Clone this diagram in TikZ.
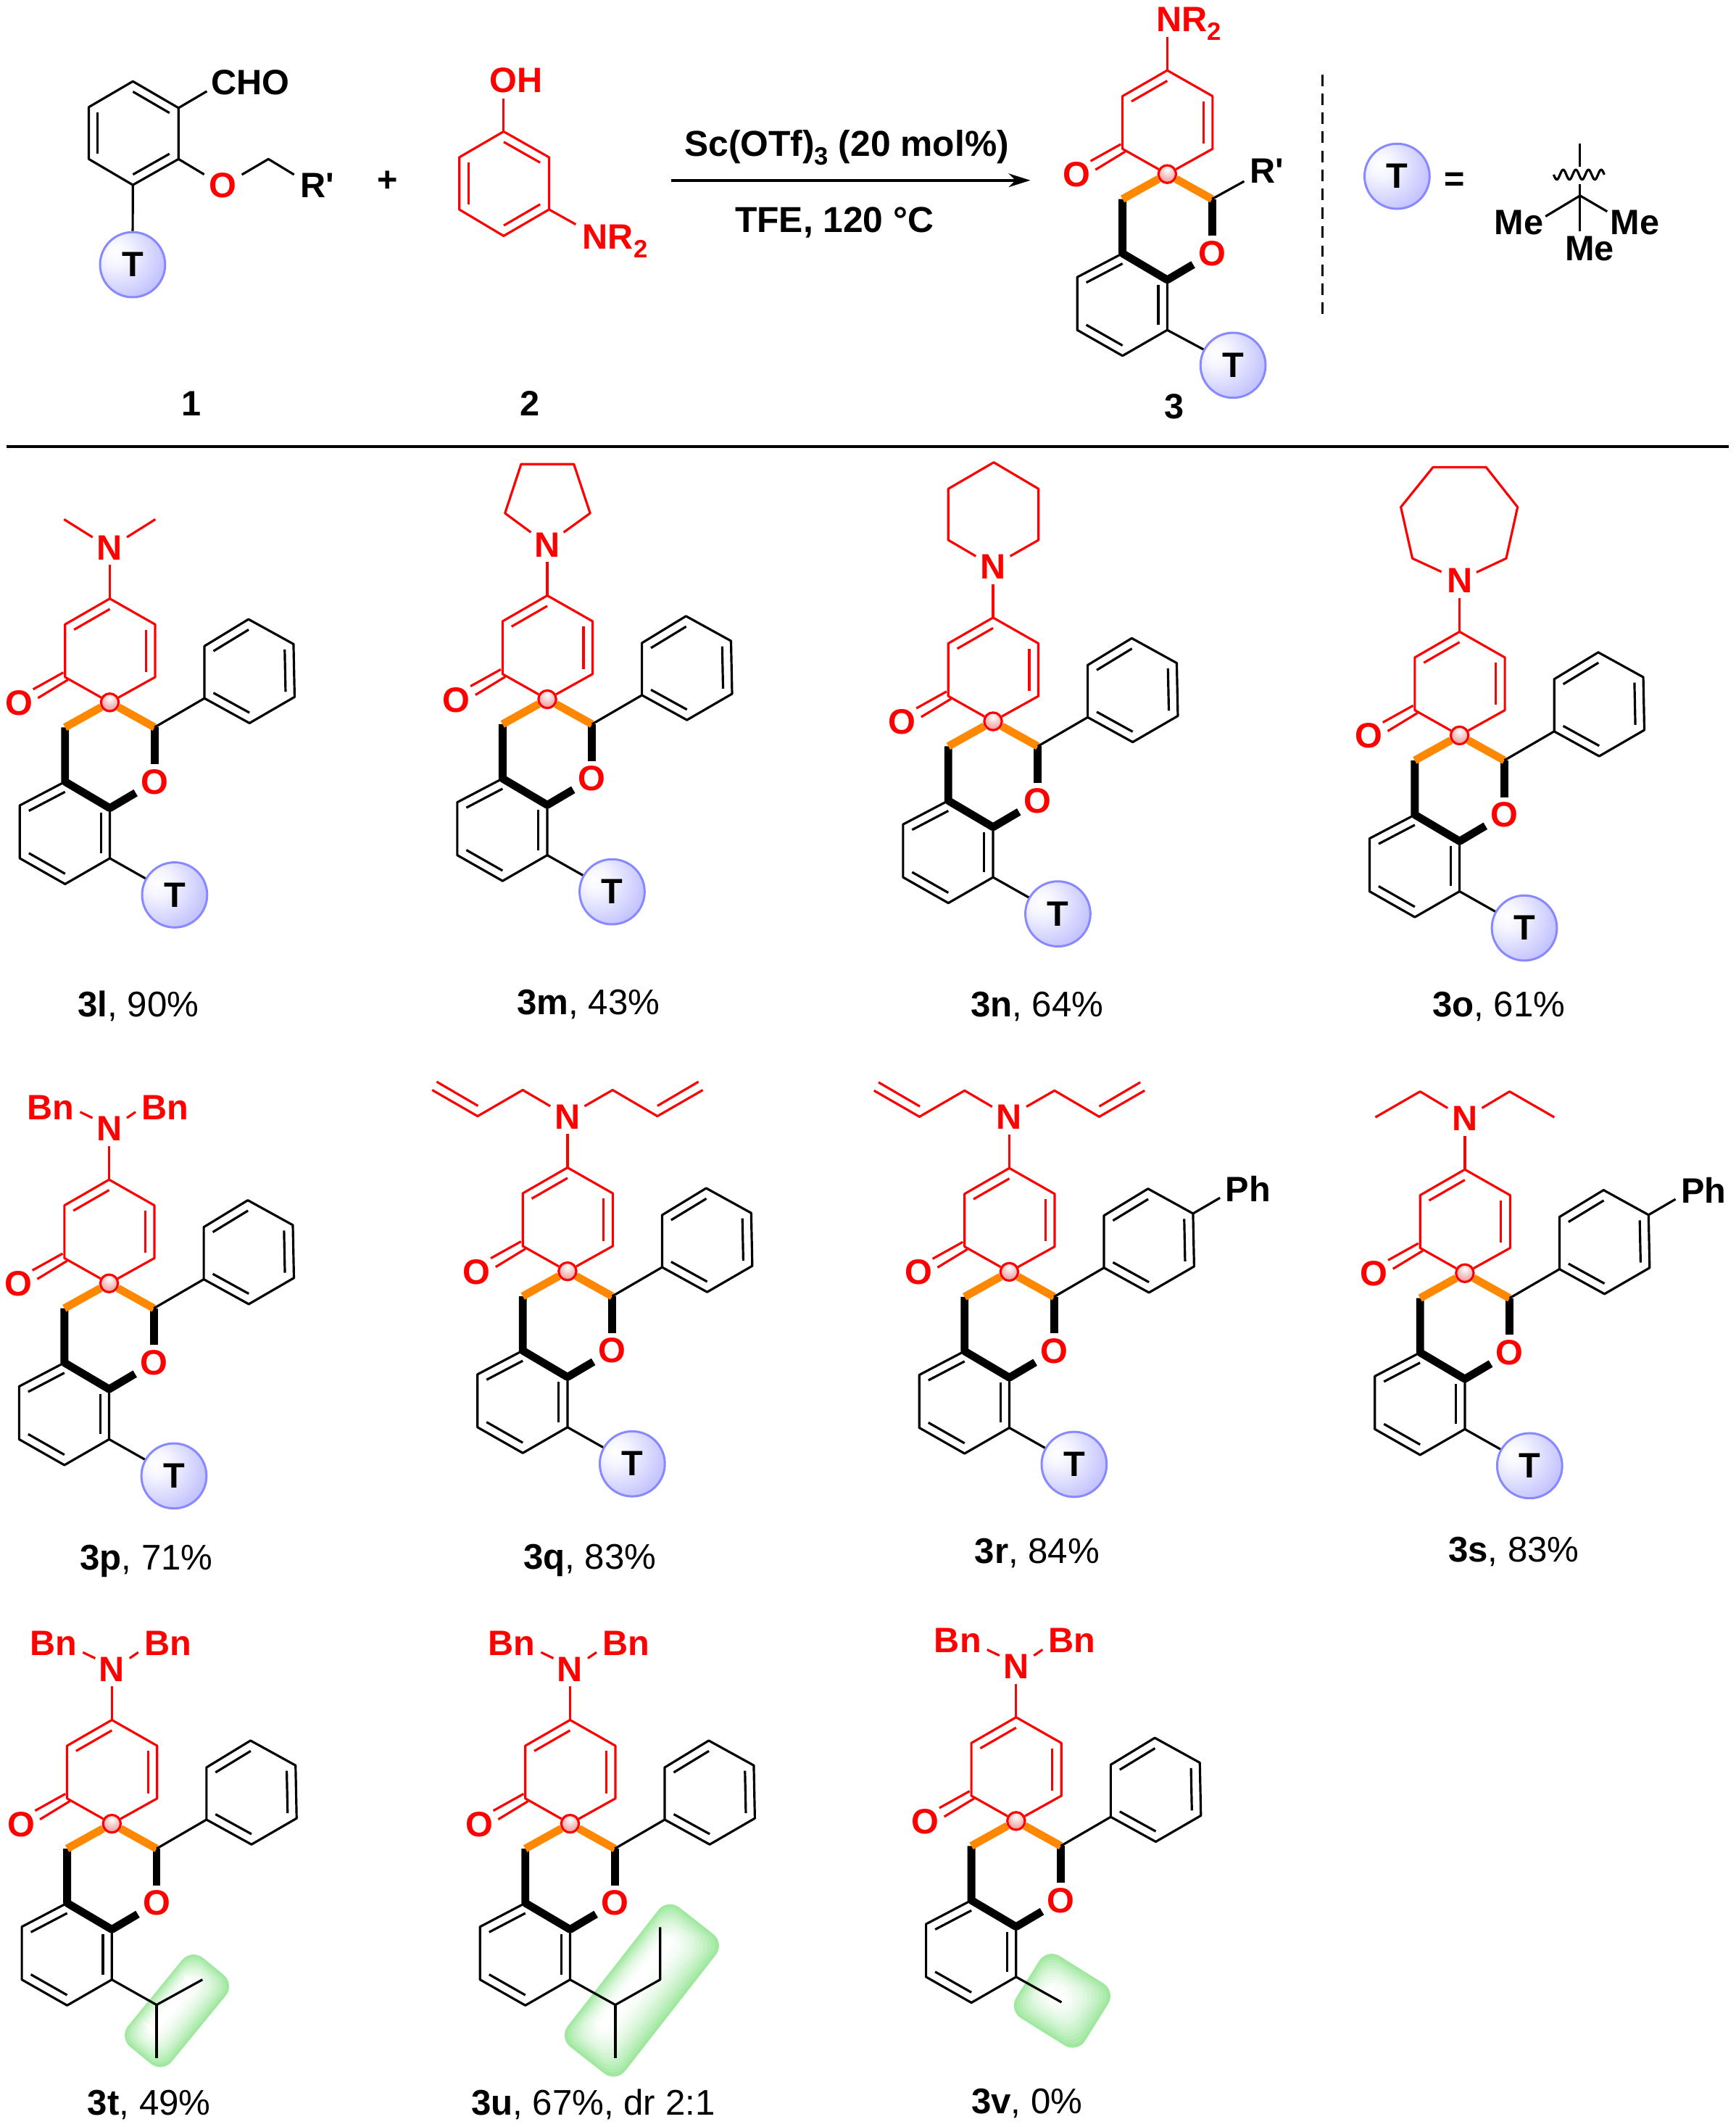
\documentclass[tikz,border=0pt]{standalone}
\usepackage{fontspec}
\setmainfont{Liberation Sans}
\newfontfamily\plainf{Liberation Sans}[BoldFont={Liberation Sans Bold}]
\usetikzlibrary{calc,arrows.meta}
\definecolor{rd}{RGB}{255,0,0}
\definecolor{orng}{RGB}{255,136,0}
\definecolor{tedge}{RGB}{136,136,255}
\definecolor{gboxc}{RGB}{160,232,160}
\pgfdeclareradialshading{tballs}{\pgfpoint{-14bp}{10bp}}{rgb(0bp)=(1,1,1);rgb(10bp)=(.96,.96,1);rgb(40bp)=(.72,.72,1);rgb(60bp)=(.54,.54,1);rgb(100bp)=(.54,.54,1)}
\pgfdeclareradialshading{sballs}{\pgfpoint{0bp}{12bp}}{rgb(0bp)=(1,1,1);rgb(22bp)=(.95,.72,.72);rgb(50bp)=(.86,.4,.4);rgb(100bp)=(.86,.4,.4)}
\newcommand\lab{\fontsize{26}{26}\selectfont\plainf\bfseries}
\newcommand\condf{\fontsize{26.6}{26.6}\selectfont\plainf\bfseries}
\newcommand\capf{\fontsize{26.3}{26.3}\selectfont}
\newcommand\subs[1]{\raisebox{-6.5pt}{\fontsize{18.5}{18.5}\selectfont #1}}
\tikzset{
  bk/.style={line width=1.7pt,black,line join=round},
  rb/.style={line width=1.7pt,rd,line join=round},
  bold/.style={line width=5.8pt,black,line join=bevel},
  og/.style={line width=5.8pt,orng},
  alab/.style={font=\lab,inner sep=3.6pt,text=black},
  rlab/.style={font=\lab,inner sep=3.6pt,text=rd},
  capn/.style={font=\capf,inner sep=0pt,anchor=base},
  tball/.style={shape=circle,minimum size=48pt,inner sep=0pt,shading=tballs,draw=tedge,line width=1.6pt,font=\lab,text=black},
  sball/.style={shape=circle,minimum size=13pt,inner sep=0pt,shading=sballs,draw=rd,line width=1.7pt},
}
\newcommand\dbl[4][bk]{\draw[#1] ($(#2)!.2!(#4)$) -- ($(#3)!.2!(#4)$);}
\newcommand\mol[4]{\begin{scope}[shift={(#2,#3)}]\def\I{#1}
  \coordinate (\I-C4) at (0,-76.5);
  \coordinate (\I-CLU) at (-33,-57.5);
  \coordinate (\I-CRU) at (33.4,-57.5);
  \coordinate (\I-CLD) at (-33,-18.6);
  \coordinate (\I-CRD) at (33.4,-18.6);
  \coordinate (\I-CH) at (-33,18.4);
  \coordinate (\I-CP) at (33,18.4);
  \coordinate (\I-Ca) at (-33,58.5);
  \coordinate (\I-Cb) at (0,78);
  \coordinate (\I-Cc) at (0,115);
  \coordinate (\I-Cd) at (-33,134);
  \coordinate (\I-Ce) at (-66.4,115);
  \coordinate (\I-Cf) at (-66.4,76);
  \coordinate (\I-RR) at (0,-38);
  \coordinate (\I-RA) at (-33,96);
  \coordinate (\I-k1a) at (-34.3,-22);
  \coordinate (\I-k1b) at (-56.6,-9.6);
  \coordinate (\I-k2a) at (-31,-16.6);
  \coordinate (\I-k2b) at (-53,-3.2);
  \node[sball] (\I-S) at (0,0) {};
  \node[rlab] (\I-O) at (33,58.5) {O};
  \node[rlab] (\I-Ok) at (-67,0.4) {O};
  \draw[rb] (\I-C4) -- (\I-CLU) -- (\I-CLD) -- (\I-S);
  \draw[rb] (\I-C4) -- (\I-CRU) -- (\I-CRD) -- (\I-S);
  \dbl[rb]{\I-C4}{\I-CLU}{\I-RR}
  \dbl[rb]{\I-CRU}{\I-CRD}{\I-RR}
  \draw[rb] (\I-k1a) -- (\I-k1b);
  \draw[rb] (\I-k2a) -- (\I-k2b);
  \draw[bk] (\I-Ca) -- (\I-Cf) -- (\I-Ce) -- (\I-Cd) -- (\I-Cc) -- (\I-Cb);
  \dbl{\I-Ca}{\I-Cf}{\I-RA}
  \dbl{\I-Cb}{\I-Cc}{\I-RA}
  \dbl{\I-Cd}{\I-Ce}{\I-RA}
  \draw[bold] (\I-CH) -- (\I-Ca) -- (\I-Cb) -- (\I-O);
  \draw[bold] (\I-CP) -- (\I-O);
  \draw[og] (\I-S) -- (\I-CH);
  \draw[og] (\I-S) -- (\I-CP);
  #4
\end{scope}}
\newcommand\Nlab{\node[rlab] (\I-N) at (0,-114) {N}; \draw[rb] (\I-C4) -- (\I-N);}
\newcommand\Tsub{\node[tball] (\I-T) at (47.8,142) {T}; \draw[bk] (\I-Cc) -- (\I-T);}
\newcommand\Phcoords{
  \coordinate (\I-P1) at (69.8,-3);
  \coordinate (\I-P2) at (69.8,-41.5);
  \coordinate (\I-P3) at (102.3,-61.3);
  \coordinate (\I-P4) at (135.5,-43);
  \coordinate (\I-P5) at (136.3,-4);
  \coordinate (\I-P6) at (103,15.3);
  \coordinate (\I-PC) at (103,-23);
  \draw[bk] (\I-CP) -- (\I-P1);
  \draw[bk] (\I-P1) -- (\I-P2) -- (\I-P3) -- (\I-P4) -- (\I-P5) -- (\I-P6) -- cycle;
  \dbl{\I-P2}{\I-P3}{\I-PC}
  \dbl{\I-P4}{\I-P5}{\I-PC}
  \dbl{\I-P1}{\I-P6}{\I-PC}
}
\newcommand\Biph{
  \Phcoords
  \node[alab] (\I-Ph) at (176,-61) {Ph};
  \coordinate (\I-Pe) at (155.4,-54.6);
  \draw[bk] (\I-P4) -- (\I-Pe);
}
\newcommand\Ngaps{
  \coordinate (\I-gl) at (-12.7,-121.8);
  \coordinate (\I-gr) at (12.6,-121.8);
}
\newcommand\BnBn[1]{
  \node[rlab] (\I-BnL) at (-43,#1) {Bn};
  \node[rlab] (\I-BnR) at (41.3,#1) {Bn};
  \coordinate (\I-b1) at (-12.3,-122);
  \coordinate (\I-b2) at (-21.4,-126.4);
  \coordinate (\I-b3) at (13.1,-122);
  \coordinate (\I-b4) at (19.5,-126.4);
  \draw[rb] (\I-b1) -- (\I-b2);
  \draw[rb] (\I-b3) -- (\I-b4);
}
\newcommand\Allyl{
  \Ngaps
  \coordinate (\I-a1) at (-33,-133.7);
  \coordinate (\I-a2) at (-66.3,-114.4);
  \coordinate (\I-a3) at (-99.8,-133.7);
  \coordinate (\I-a4) at (-66,-122);
  \coordinate (\I-a5) at (-96.5,-139.8);
  \coordinate (\I-a6) at (33.3,-133.7);
  \coordinate (\I-a7) at (66.3,-114.4);
  \coordinate (\I-a8) at (99.8,-133.7);
  \coordinate (\I-a9) at (66.3,-122);
  \coordinate (\I-a10) at (96.6,-139.8);
  \draw[rb] (\I-gl) -- (\I-a1) -- (\I-a2) -- (\I-a3);
  \draw[rb] (\I-a4) -- (\I-a5);
  \draw[rb] (\I-gr) -- (\I-a6) -- (\I-a7) -- (\I-a8);
  \draw[rb] (\I-a9) -- (\I-a10);
}
\newcommand\gbox[5]{%
  \foreach \i in {0,...,14}{%
    \pgfmathsetmacro\gp{100*(1-\i/14)^1.8}%
    \pgfmathsetmacro\gd{\i*#5/15}%
    \begin{scope}[shift={({#1-\gd*.2},{#2-\gd*.2})},rotate=#3]
      \fill[gboxc!\gp!white,rounded corners=11pt] ({-#4+\gd},{-#5+\gd}) rectangle ({#4-\gd},{#5-\gd});
    \end{scope}
  }%
}
\begin{document}
\begin{tikzpicture}[x=1pt,y=-1pt]
\useasboundingbox (0,0) rectangle (1280,1568.7);

% ---------- compound 1
\coordinate (a1) at (98,60);
\coordinate (a2) at (131.7,79.6);
\coordinate (a3) at (131.7,117.3);
\coordinate (a4) at (98,136.4);
\coordinate (a5) at (65.5,117.3);
\coordinate (a6) at (65.5,79);
\coordinate (ac) at (98.3,98);
\draw[bk] (a1) -- (a2) -- (a3) -- (a4) -- (a5) -- (a6) -- cycle;
\dbl{a1}{a2}{ac}
\dbl{a3}{a4}{ac}
\dbl{a5}{a6}{ac}
\node[alab,anchor=west,inner sep=0pt] (cho) at (155.5,61) {CHO};
\coordinate (choe) at (152.6,67.3);
\draw[bk] (a2) -- (choe);
\node[rlab] (ao) at (164.5,137) {O};
\coordinate (ach2) at (198,117.3);
\coordinate (are) at (216.9,128.8);
\node[alab] (ar) at (234,137) {R'};
\draw[bk] (a3) -- (ao);
\draw[bk] (ao) -- (ach2) -- (are);
\node[tball] (at) at (97.8,195.2) {T};
\draw[bk] (a4) -- (at);
\node[alab] (c1) at (141,297.7) {1};
\node[alab] (plus) at (286,133.7) {+};

% ---------- compound 2
\coordinate (b1) at (371.5,97);
\coordinate (b2) at (405,116);
\coordinate (b3) at (405,154.5);
\coordinate (b4) at (371.5,174);
\coordinate (b5) at (338.8,154.5);
\coordinate (b6) at (338.8,116);
\coordinate (bc) at (372,135.5);
\draw[rb] (b1) -- (b2) -- (b3) -- (b4) -- (b5) -- (b6) -- cycle;
\dbl[rb]{b1}{b2}{bc}
\dbl[rb]{b3}{b4}{bc}
\dbl[rb]{b5}{b6}{bc}
\node[rlab] (boh) at (380.5,59.4) {OH};
\coordinate (bohe) at (371.5,72.6);
\draw[rb] (b1) -- (bohe);
\node[rlab,anchor=base west,inner sep=0pt] (bnr) at (429.6,183.5) {NR\subs{2}};
\coordinate (bnre) at (424.7,165.5);
\draw[rb] (b3) -- (bnre);
\node[alab] (c2) at (390.7,297.7) {2};

% ---------- arrow
\coordinate (arl) at (495,133);
\coordinate (arr) at (760,133);
\draw[line width=2pt,-{Stealth[length=16pt,width=10pt,inset=5pt]}] (arl) -- (arr);
\node[alab,font=\condf,anchor=base,inner sep=0pt] (cond1) at (624.5,115) {Sc(OTf)\subs{3} (20 mol\%)};
\node[alab,font=\condf,anchor=base,inner sep=0pt] (cond2) at (615.5,171.5) {TFE, 120 °C};

% ---------- product 3
\mol{p3}{861}{128.4}{
  \node[rlab,anchor=base west,inner sep=0pt] (\I-NR) at (-8.1,-105.4) {NR\subs{2}};
  \coordinate (\I-NRe) at (0,-101);
  \draw[rb] (\I-C4) -- (\I-NRe);
  \node[alab] (\I-R) at (73.3,-2.4) {R'};
  \coordinate (\I-Re) at (56.7,5.3);
  \draw[bk] (\I-CP) -- (\I-Re);
  \node[tball] (\I-T) at (48.5,141) {T}; \draw[bk] (\I-Cc) -- (\I-T);
}
\node[alab] (c3) at (866,299.6) {3};
\coordinate (dt) at (975.5,55);
\coordinate (db) at (975.5,236.6);
\draw[line width=1.6pt,dash pattern=on 8.5pt off 5.5pt] (dt) -- (db);

% ---------- T definition
\node[tball] (tdef) at (1030.5,130) {T};
\node[alab] (eq) at (1073,134) {=};
\coordinate (q0) at (1165.5,144.3);
\coordinate (qt) at (1165.5,105.7);
\coordinate (qtb) at (1165.5,123);
\coordinate (qb) at (1165.5,136);
\coordinate (ql) at (1140,159.6);
\coordinate (qr) at (1185.5,156);
\coordinate (qd) at (1165.5,170.8);
\draw[bk] (qt) -- (qtb);
\draw[bk] (qb) -- (q0);
\draw[bk] (q0) -- (ql);
\draw[bk] (q0) -- (qr);
\draw[bk] (q0) -- (qd);
\draw[bk,domain=1146:1183.4,samples=90,variable=\t] plot ({\t},{128.8+3.6*sin((\t-1146)*360/9.35)});
\node[alab,inner sep=0pt] (me1) at (1120.5,164.4) {Me};
\node[alab,inner sep=0pt] (me2) at (1206,164.4) {Me};
\node[alab,inner sep=0pt] (me3) at (1172.5,183.5) {Me};

% ---------- rule
\coordinate (hl) at (5,329.5);
\coordinate (hr) at (1275,329.5);
\draw[line width=2pt] (hl) -- (hr);

% ---------- 3l
\mol{3l}{81}{518}{\Nlab\Tsub\Phcoords\Ngaps
  \coordinate (\I-m1) at (-33.8,-135);
  \coordinate (\I-m2) at (33.6,-135);
  \draw[rb] (\I-gl) -- (\I-m1);
  \draw[rb] (\I-gr) -- (\I-m2);
}
\node[capn] (cap3l) at (102,750) {\textbf{3l}, 90\%};

% ---------- 3m
\mol{3m}{403.7}{515.7}{\Nlab\Tsub\Phcoords
  \coordinate (\I-r0) at (-12.1,-123.1);
  \coordinate (\I-r1) at (-31.2,-137.2);
  \coordinate (\I-r2) at (-19.3,-173.4);
  \coordinate (\I-r3) at (19.6,-173.4);
  \coordinate (\I-r4) at (31.6,-137.2);
  \coordinate (\I-r5) at (12.1,-123.1);
  \draw[rb] (\I-r0) -- (\I-r1) -- (\I-r2) -- (\I-r3) -- (\I-r4) -- (\I-r5);
}
\node[capn] (cap3m) at (434,748) {\textbf{3m}, 43\%};

% ---------- 3n
\mol{3n}{732.5}{532}{\Nlab\Tsub\Phcoords\Ngaps
  \coordinate (\I-r1) at (-33,-133.7);
  \coordinate (\I-r2) at (-33,-171.5);
  \coordinate (\I-r3) at (0.5,-191);
  \coordinate (\I-r4) at (33.5,-171.5);
  \coordinate (\I-r5) at (33.5,-133.7);
  \draw[rb] (\I-gl) -- (\I-r1) -- (\I-r2) -- (\I-r3) -- (\I-r4) -- (\I-r5) -- (\I-gr);
}
\node[capn] (cap3n) at (765,750) {\textbf{3n}, 64\%};

% ---------- 3o
\mol{3o}{1076.6}{542.4}{\Nlab\Tsub\Phcoords
  \coordinate (\I-r0) at (-13.4,-120.7);
  \coordinate (\I-r1) at (-34.8,-130.6);
  \coordinate (\I-r2) at (-43.3,-168.4);
  \coordinate (\I-r3) at (-19.6,-197.8);
  \coordinate (\I-r4) at (19.6,-197.8);
  \coordinate (\I-r5) at (42.8,-168.4);
  \coordinate (\I-r6) at (34.4,-130.6);
  \coordinate (\I-r7) at (12.5,-120.3);
  \draw[rb] (\I-r0) -- (\I-r1) -- (\I-r2) -- (\I-r3) -- (\I-r4) -- (\I-r5) -- (\I-r6) -- (\I-r7);
}
\node[capn] (cap3o) at (1105.5,750) {\textbf{3o}, 61\%};

% ---------- row 2
\mol{3p}{80.5}{946.5}{\Nlab\Tsub\Phcoords\BnBn{-129.5}}
\node[capn] (cap3p) at (108,1158) {\textbf{3p}, 71\%};
\mol{3q}{418.6}{937.6}{\Nlab\Tsub\Phcoords\Allyl}
\node[capn] (cap3q) at (435,1157) {\textbf{3q}, 83\%};
\mol{3r}{744.5}{938}{\Nlab\Tsub\Biph\Allyl}
\node[capn] (cap3r) at (765,1153) {\textbf{3r}, 84\%};
\mol{3s}{1080.5}{939}{\Nlab\Tsub\Biph\Ngaps
  \coordinate (\I-e1) at (-33,-134);
  \coordinate (\I-e2) at (-66,-115);
  \coordinate (\I-e3) at (33,-134);
  \coordinate (\I-e4) at (66,-115);
  \draw[rb] (\I-gl) -- (\I-e1) -- (\I-e2);
  \draw[rb] (\I-gr) -- (\I-e3) -- (\I-e4);
}
\node[capn] (cap3s) at (1116.5,1152) {\textbf{3s}, 83\%};

% ---------- row 3
\gbox{130.5}{1483}{50.7}{42.4}{20.8}
\mol{3t}{82.5}{1345}{\Nlab\Phcoords\BnBn{-133}
  \coordinate (\I-i0) at (33,133.6);
  \coordinate (\I-i1) at (66.8,115);
  \coordinate (\I-i2) at (33,173);
  \draw[bk] (\I-Cc) -- (\I-i0) -- (\I-i1);
  \draw[bk] (\I-i0) -- (\I-i2);
}
\node[capn] (cap3t) at (110,1560) {\textbf{3t}, 49\%};

\gbox{473.4}{1468}{52}{65.3}{26.9}
\mol{3u}{420.5}{1345}{\Nlab\Phcoords\BnBn{-133}
  \coordinate (\I-i0) at (33.4,133.6);
  \coordinate (\I-i1) at (66.4,115);
  \coordinate (\I-i3) at (66.4,76.3);
  \coordinate (\I-i2) at (33.4,173);
  \draw[bk] (\I-Cc) -- (\I-i0) -- (\I-i1) -- (\I-i3);
  \draw[bk] (\I-i0) -- (\I-i2);
}
\node[capn] (cap3u) at (437.5,1560) {\textbf{3u}, 67\%, dr 2:1};

\gbox{783.5}{1475.6}{-32}{30}{27}
\mol{3v}{749.5}{1343}{\Nlab\Phcoords\BnBn{-133}
  \coordinate (\I-i0) at (33.5,133.7);
  \draw[bk] (\I-Cc) -- (\I-i0);
}
\node[capn] (cap3v) at (757.5,1559) {\textbf{3v}, 0\%};
\end{tikzpicture}
\end{document}
